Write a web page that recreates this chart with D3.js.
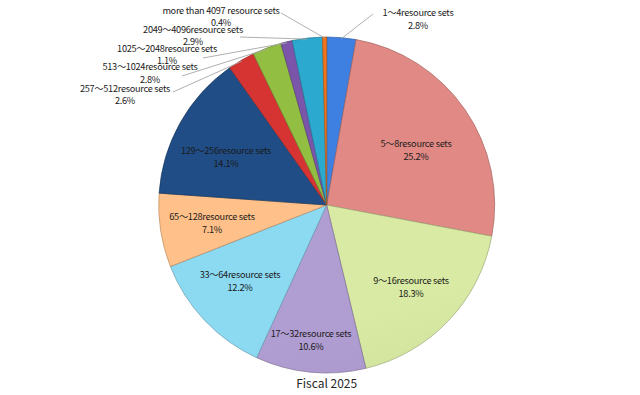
<!DOCTYPE html>
<html>
<head>
<meta charset="utf-8">
<script src="https://cdn.jsdelivr.net/npm/d3@7"></script>
<style>
  html, body { margin: 0; padding: 0; background: #fff; }
  svg { display: block; }
  text { font-family: "Noto Sans CJK JP", "Noto Sans", sans-serif; }
</style>
</head>
<body>
<div id="chart"></div>
<script>
// Data (clockwise from 12 o'clock)
const categories = [
  "1〜4resource sets", "5〜8resource sets", "9〜16resource sets", "17〜32resource sets",
  "33〜64resource sets", "65〜128resource sets", "129〜256resource sets", "257〜512resource sets",
  "513〜1024resource sets", "1025〜2048resource sets", "2049〜4096resource sets",
  "more than 4097 resource sets"
];
const shares = [2.8, 25.2, 18.3, 10.6, 12.2, 7.1, 14.1, 2.6, 2.8, 1.1, 2.9, 0.4];
const sliceColors = [
  "#3b7bd8", "#d8847f", "#cfe09c", "#a996c9", "#86d0e8", "#f7b983",
  "#1f4a7f", "#cd3230", "#8cb73f", "#7651a3", "#2aa2c6", "#e8701a"
];
const title = "Fiscal 2025";

// Layout
const W = 640, H = 395;
const cx = 326.7, cy = 205, R = 168;
const lineGap = 12.5;

// label centres (first line) and, for outside labels, where the leader line leaves the label
const labelLayout = [
  { x: 418, y: 13, out: true, lx: 373, ly: 14 },
  { x: 416, y: 144 },
  { x: 411, y: 281 },
  { x: 311, y: 334 },
  { x: 240, y: 275 },
  { x: 212, y: 217 },
  { x: 226, y: 151 },
  { x: 125, y: 88.5, out: true, lx: 173, ly: 92 },
  { x: 150, y: 67, out: true, lx: 182, ly: 76 },
  { x: 167, y: 48.5, out: true, lx: 203, ly: 58 },
  { x: 193, y: 29.5, out: true, lx: 240, ly: 37 },
  { x: 221, y: 10.5, out: true, lx: 281, ly: 13 }
];

const svg = d3.select("#chart")
  .append("svg")
  .attr("width", W)
  .attr("height", H)
  .attr("viewBox", `0 0 ${W} ${H}`);

svg.append("rect").attr("width", W).attr("height", H).attr("fill", "#fff");

const defs = svg.append("defs");
sliceColors.forEach((c, i) => {
  const g = defs.append("linearGradient")
    .attr("id", "grad" + i)
    .attr("gradientUnits", "userSpaceOnUse")
    .attr("x1", cx - R * 0.3).attr("y1", cy - R)
    .attr("x2", cx + R * 0.3).attr("y2", cy + R);
  g.append("stop").attr("offset", 0).attr("stop-color", d3.color(c).brighter(0.12));
  g.append("stop").attr("offset", 1).attr("stop-color", d3.color(c).darker(0.3));
});

const data = categories.map((name, i) => ({ name, value: shares[i], i }));

const pie = d3.pie().value(d => d.value).sort(null);
const arcs = pie(data);
const arc = d3.arc().innerRadius(0).outerRadius(R);

const g = svg.append("g").attr("transform", `translate(${cx},${cy})`);

g.selectAll("path.slice")
  .data(arcs)
  .join("path")
  .attr("class", "slice")
  .attr("d", arc)
  .attr("fill", d => `url(#grad${d.data.i})`)
  .attr("stroke", d => d3.color(sliceColors[d.data.i]).darker(0.8))
  .attr("stroke-width", 0.7)
  .attr("stroke-linejoin", "round");

// leader lines for outside labels
const edgeArc = d3.arc().innerRadius(R - 1).outerRadius(R - 1);
svg.append("g")
  .selectAll("line")
  .data(arcs.filter(d => labelLayout[d.data.i].out))
  .join("line")
  .attr("x1", d => labelLayout[d.data.i].lx)
  .attr("y1", d => labelLayout[d.data.i].ly)
  .attr("x2", d => cx + edgeArc.centroid(d)[0])
  .attr("y2", d => cy + edgeArc.centroid(d)[1])
  .attr("stroke", "#a6a6a6")
  .attr("stroke-width", 0.9);

// labels
const labels = svg.append("g")
  .selectAll("text")
  .data(arcs)
  .join("text")
  .attr("text-anchor", "middle")
  .attr("font-size", 9.2)
  .attr("letter-spacing", -0.28)
  .attr("fill", "#1a1a1a");

labels.append("tspan")
  .attr("x", d => labelLayout[d.data.i].x)
  .attr("y", d => labelLayout[d.data.i].y + 3.3)
  .text(d => d.data.name);

labels.append("tspan")
  .attr("x", d => labelLayout[d.data.i].x)
  .attr("y", d => labelLayout[d.data.i].y + 3.3 + lineGap)
  .text(d => d.data.value.toFixed(1) + "%");

svg.append("text")
  .attr("x", cx)
  .attr("y", 388)
  .attr("text-anchor", "middle")
  .attr("font-size", 12)
  .attr("fill", "#262626")
  .text(title);
</script>
</body>
</html>
